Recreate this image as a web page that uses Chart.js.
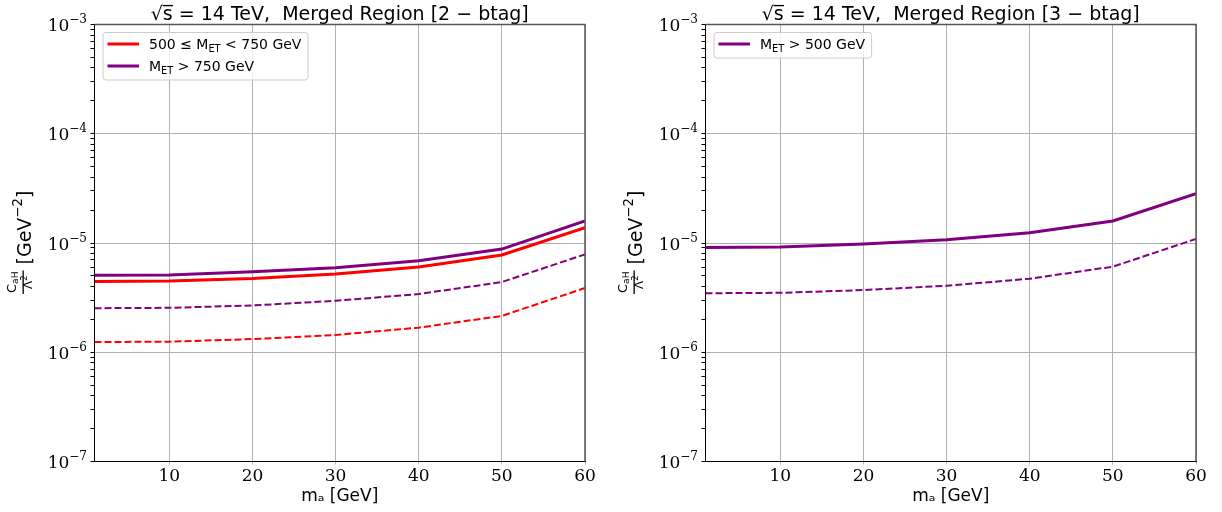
<!DOCTYPE html>
<html>
<head>
<meta charset="utf-8">
<script src="https://cdn.jsdelivr.net/npm/chart.js@4.4.1/dist/chart.umd.min.js"></script>
<style>
html, body { margin: 0; padding: 0; background: #fff; }
#wrap { position: relative; width: 1222px; height: 512px; }
.pane { position: absolute; top: 0; width: 611px; height: 512px; }
</style>
</head>
<body>
<div id="wrap">
  <div class="pane" style="left:0"><canvas id="left" width="611" height="512"></canvas></div>
  <div class="pane" style="left:611px"><canvas id="right" width="611" height="512"></canvas></div>
</div>
<script>
// axion mass points (GeV)
const massPoints = [1, 10, 20, 30, 40, 50, 60];
const xTicks = [10, 20, 30, 40, 50, 60];
const yDecades = [-7, -6, -5, -4, -3];

// merged region, 2 btag
const met500to750 = [4.45e-6, 4.5e-6, 4.74e-6, 5.2e-6, 6.03e-6, 7.76e-6, 1.38e-5];
const met750 = [5.08e-6, 5.1e-6, 5.46e-6, 5.94e-6, 6.88e-6, 8.8e-6, 1.59e-5];
const met500to750Dash = [1.24e-6, 1.25e-6, 1.32e-6, 1.44e-6, 1.68e-6, 2.15e-6, 3.87e-6];
const met750Dash = [2.53e-6, 2.55e-6, 2.68e-6, 2.96e-6, 3.41e-6, 4.39e-6, 7.87e-6];

// merged region, 3 btag
const met500 = [9.1e-6, 9.2e-6, 9.8e-6, 1.07e-5, 1.24e-5, 1.59e-5, 2.83e-5];
const met500Dash = [3.47e-6, 3.5e-6, 3.71e-6, 4.06e-6, 4.71e-6, 6.07e-6, 1.09e-5];

// text pieces: [text, 'sub' | 'sup' | undefined]
const titleLeft = '√s̅ = 14 TeV,  Merged Region [2 − btag]';
const titleRight = '√s̅ = 14 TeV,  Merged Region [3 − btag]';
const xTitle = 'mₐ [GeV]';
const yNum = [['C'], ['aH', 'sub']];
const yDen = [['Λ'], ['2', 'sup']];
const yUnit = [[' [GeV'], ['−2', 'sup'], [']']];
const legLow = [['500 ≤ M'], ['ET', 'sub'], [' < 750 GeV']];
const legHigh = [['M'], ['ET', 'sub'], [' > 750 GeV']];
const leg500 = [['M'], ['ET', 'sub'], [' > 500 GeV']];

const RED = '#ff0000';
const PURPLE = '#800080';
const SANS = '"DejaVu Sans", sans-serif';
const SERIF = '"DejaVu Serif", serif';

const yTickValues = [];
yDecades.forEach((e, i) => {
    if (i === yDecades.length - 1) { yTickValues.push(Math.pow(10, e)); return; }
    for (let m = 1; m <= 9; m++) yTickValues.push(Number((m * Math.pow(10, e)).toPrecision(3)));
});

const isPow10 = v => Math.abs(Math.log10(v) - Math.round(Math.log10(v))) < 1e-9;

function pts(values) {
    return massPoints.map((x, i) => ({ x, y: values[i] }));
}

function richWidth(ctx, parts, size, fam) {
    let w = 0;
    for (const [t, kind] of parts) {
        ctx.font = (kind ? size * 0.7 : size) + 'px ' + fam;
        w += ctx.measureText(t).width;
    }
    return w;
}

function drawRich(ctx, parts, x, y, size, fam) {
    let cx = x;
    for (const [t, kind] of parts) {
        const s = kind ? size * 0.7 : size;
        const dy = kind === 'sub' ? size * 0.22 : kind === 'sup' ? -size * 0.45 : 0;
        ctx.font = s + 'px ' + fam;
        ctx.fillText(t, cx, y + dy);
        cx += ctx.measureText(t).width;
    }
    return cx - x;
}

const decorPlugin = {
    id: 'decor',
    afterDraw(chart, args, opts) {
        const ctx = chart.ctx;
        const a = chart.chartArea;

        // top and right spines
        ctx.save();
        ctx.strokeStyle = '#555';
        ctx.lineWidth = 1.5;
        ctx.beginPath();
        ctx.moveTo(a.left, a.top);
        ctx.lineTo(a.right, a.top);
        ctx.lineTo(a.right, a.bottom);
        ctx.stroke();
        ctx.restore();

        // title centred over the plot
        ctx.save();
        ctx.fillStyle = '#000';
        ctx.font = '19px ' + SANS;
        ctx.textAlign = 'center';
        ctx.textBaseline = 'alphabetic';
        ctx.fillText(opts.title, (a.left + a.right) / 2, 19.5);
        ctx.restore();

        // y tick labels 10^n
        const ys = chart.scales.y;
        ctx.save();
        ctx.fillStyle = '#000';
        ctx.textBaseline = 'alphabetic';
        yDecades.forEach(e => {
            const py = ys.getPixelForValue(Math.pow(10, e));
            const sup = '−' + Math.abs(e);
            ctx.font = '12px ' + SERIF;
            const ws = ctx.measureText(sup).width;
            ctx.font = '17px ' + SERIF;
            const wb = ctx.measureText('10').width;
            const right = a.left - 7.5;
            ctx.fillText('10', right - ws - wb, py + 6.5);
            ctx.font = '12px ' + SERIF;
            ctx.fillText(sup, right - ws, py - 1.3);
        });
        ctx.restore();

        // legend
        const items = opts.items;
        const fs = 14;
        let tw = 0;
        items.forEach(it => { tw = Math.max(tw, richWidth(ctx, it.parts, fs, SANS)); });
        const bx = a.left + 8.5, by = a.top + 8;
        const bw = 46 + tw + 6.5, bh = 22 * items.length + 3.5;
        ctx.save();
        ctx.fillStyle = 'rgba(255,255,255,0.8)';
        ctx.strokeStyle = '#cccccc';
        ctx.lineWidth = 1;
        ctx.beginPath();
        ctx.roundRect(bx, by, bw, bh, 3);
        ctx.fill();
        ctx.stroke();
        items.forEach((it, i) => {
            const cy = by + 11.5 + 22 * i;
            ctx.strokeStyle = it.color;
            ctx.lineWidth = 3;
            ctx.beginPath();
            ctx.moveTo(bx + 4.5, cy);
            ctx.lineTo(bx + 36, cy);
            ctx.stroke();
            ctx.fillStyle = '#000';
            ctx.textBaseline = 'alphabetic';
            drawRich(ctx, it.parts, bx + 46, cy + 5, fs, SANS);
        });
        ctx.restore();

        // y axis label (fraction + unit), rotated
        ctx.save();
        ctx.translate(31, 294);
        ctx.rotate(-Math.PI / 2);
        ctx.fillStyle = '#000';
        ctx.textBaseline = 'alphabetic';
        const numW = richWidth(ctx, yNum, 13, SANS);
        const denW = richWidth(ctx, yDen, 12, SANS);
        const fw = Math.max(numW, denW) + 2;
        drawRich(ctx, yNum, (fw - numW) / 2, -15.5, 13, SANS);
        drawRich(ctx, yDen, (fw - denW) / 2, 1, 12, SANS);
        ctx.fillRect(0, -8.5, fw, 1.3);
        drawRich(ctx, yUnit, fw, 0, 19, SANS);
        ctx.restore();
    }
};

function solid(label, values, color) {
    return { label, data: pts(values), borderColor: color, backgroundColor: color, borderWidth: 3, pointRadius: 0, tension: 0 };
}
function dashed(label, values, color) {
    return { label, data: pts(values), borderColor: color, backgroundColor: color, borderWidth: 2, borderDash: [7, 3], pointRadius: 0, tension: 0 };
}

function makeChart(id, title, datasets, legendItems) {
    return new Chart(document.getElementById(id), {
        type: 'line',
        data: { datasets },
        plugins: [decorPlugin],
        options: {
            responsive: false,
            animation: false,
            events: [],
            layout: { padding: { left: 0, right: 26, top: 24.5, bottom: 0 } },
            plugins: {
                legend: { display: false },
                tooltip: { enabled: false },
                title: { display: false },
                decor: { items: legendItems, title },
            },
            scales: {
                x: {
                    type: 'linear', min: 1, max: 60,
                    afterBuildTicks: s => { s.ticks = xTicks.map(v => ({ value: v })); },
                    afterFit: s => { s.height = 50.5; },
                    ticks: { autoSkip: false, maxRotation: 0, padding: 2, color: '#000', font: { family: SERIF, size: 17 } },
                    grid: { color: '#b0b0b0', lineWidth: 1, tickLength: 3, tickColor: '#b0b0b0' },
                    border: { color: '#000', width: 1 },
                    title: { display: true, text: xTitle, color: '#000', font: { family: SANS, size: 17 }, padding: { top: 0, bottom: 5 } },
                },
                y: {
                    type: 'logarithmic', min: 1e-7, max: 1e-3,
                    afterBuildTicks: s => { s.ticks = yTickValues.map(v => ({ value: v, major: isPow10(v) })); },
                    afterFit: s => { s.width = 94.5; },
                    ticks: { autoSkip: false, padding: 3, callback: () => '' },
                    grid: {
                        color: c => (c.tick && isPow10(c.tick.value)) ? '#b0b0b0' : 'rgba(0,0,0,0)',
                        lineWidth: 1, tickLength: 4, tickColor: '#000',
                    },
                    border: { color: '#000', width: 1 },
                },
            },
        },
    });
}

makeChart('left', titleLeft, [
    solid('500 ≤ MET < 750 GeV', met500to750, RED),
    solid('MET > 750 GeV', met750, PURPLE),
    dashed('500 ≤ MET < 750 GeV (exp)', met500to750Dash, RED),
    dashed('MET > 750 GeV (exp)', met750Dash, PURPLE),
], [
    { parts: legLow, color: RED },
    { parts: legHigh, color: PURPLE },
]);

makeChart('right', titleRight, [
    solid('MET > 500 GeV', met500, PURPLE),
    dashed('MET > 500 GeV (exp)', met500Dash, PURPLE),
], [
    { parts: leg500, color: PURPLE },
]);
</script>
</body>
</html>
